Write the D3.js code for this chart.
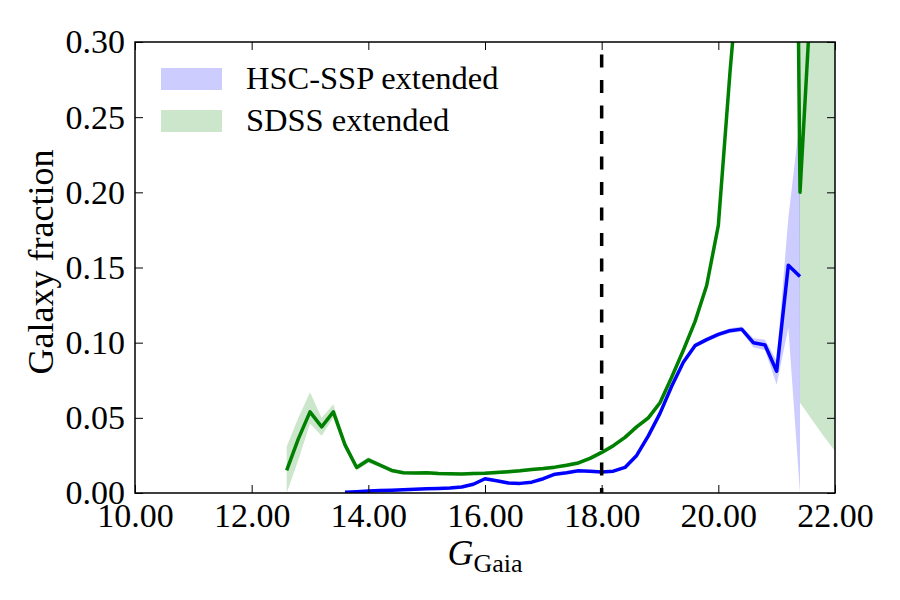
<!DOCTYPE html>
<html>
<head>
<meta charset="utf-8">
<script src="https://cdn.jsdelivr.net/npm/d3@7"></script>
<style>
  body { margin: 0; background: #fff; }
</style>
</head>
<body>
<script>
// DATA
const mags = [12.6, 12.8, 13.0, 13.2, 13.4, 13.6, 13.8, 14.0, 14.2, 14.4,
  14.6, 14.8, 15.0, 15.2, 15.4, 15.6, 15.8, 16.0, 16.2, 16.4,
  16.6, 16.8, 17.0, 17.2, 17.4, 17.6, 17.8, 18.0, 18.2, 18.4,
  18.6, 18.8, 19.0, 19.2, 19.4, 19.6, 19.8, 20.0, 20.2, 20.4,
  20.6, 20.8, 21.0, 21.2, 21.4, 21.6, 21.8, 22.0];

const sdssFrac = [0.015, 0.036, 0.054, 0.044, 0.054, 0.032, 0.017, 0.022, 0.0185, 0.0150,
  0.0135, 0.0133, 0.0134, 0.0130, 0.0128, 0.0126, 0.0130, 0.0132, 0.0137, 0.0142,
  0.0148, 0.0156, 0.0163, 0.0172, 0.0185, 0.0200, 0.0230, 0.0270, 0.0315, 0.0370,
  0.0440, 0.0500, 0.0600, 0.0770, 0.0950, 0.1140, 0.1380, 0.1780, 0.28, 0.37,
  0.45, 0.55, 0.70, 1.0, 0.20, 0.34, 0.55, 0.75];
const sdssLo = [0.000, 0.022, 0.046, 0.038, 0.050, 0.029, 0.015, 0.020, 0.0173, 0.0138,
  0.0123, 0.0121, 0.0122, 0.0118, 0.0116, 0.0114, 0.0118, 0.0120, 0.0125, 0.0130,
  0.0136, 0.0144, 0.0151, 0.0160, 0.0172, 0.0187, 0.0216, 0.0255, 0.0300, 0.0354,
  0.0425, 0.0483, 0.0580, 0.0748, 0.0925, 0.1115, 0.1350, 0.1745, 0.275, 0.36,
  0.44, 0.54, 0.68, 2.5, 0.060, 0.049, 0.038, 0.028];
const sdssHi = [0.031, 0.050, 0.067, 0.050, 0.059, 0.035, 0.019, 0.024, 0.0197, 0.0162,
  0.0147, 0.0145, 0.0146, 0.0142, 0.0140, 0.0138, 0.0142, 0.0144, 0.0149, 0.0154,
  0.0160, 0.0168, 0.0175, 0.0184, 0.0198, 0.0213, 0.0244, 0.0285, 0.0330, 0.0386,
  0.0455, 0.0517, 0.0620, 0.0792, 0.0975, 0.1165, 0.1410, 0.1815, 0.285, 0.38,
  0.46, 0.56, 0.72, 4.0, 4.0, 4.0, 4.0, 4.0];

const hscFrac = [null, null, null, null, null, 0.0005, 0.0009, 0.0013, 0.0016, 0.0019,
  0.0022, 0.0025, 0.0028, 0.0030, 0.0033, 0.0040, 0.0058, 0.0095, 0.0082, 0.0066,
  0.0064, 0.0072, 0.0095, 0.0125, 0.0135, 0.0148, 0.0145, 0.0140, 0.0145, 0.0170,
  0.0250, 0.0380, 0.0530, 0.0710, 0.0870, 0.0980, 0.1020, 0.1055, 0.1080, 0.1090,
  0.1000, 0.0985, 0.0810, 0.1515, 0.1440, null, null, null];
const hscLo = [null, null, null, null, null, 0.0000, 0.0003, 0.0007, 0.0010, 0.0013,
  0.0016, 0.0019, 0.0022, 0.0024, 0.0027, 0.0034, 0.0051, 0.0088, 0.0075, 0.0059,
  0.0057, 0.0065, 0.0088, 0.0118, 0.0128, 0.0141, 0.0138, 0.0133, 0.0138, 0.0162,
  0.0240, 0.0370, 0.0518, 0.0698, 0.0856, 0.0966, 0.1005, 0.1040, 0.1064, 0.1072,
  0.0970, 0.0950, 0.0720, 0.1100, 0.0000, null, null, null];
const hscHi = [null, null, null, null, null, 0.0011, 0.0015, 0.0019, 0.0022, 0.0025,
  0.0028, 0.0031, 0.0034, 0.0036, 0.0039, 0.0046, 0.0065, 0.0102, 0.0089, 0.0073,
  0.0071, 0.0079, 0.0102, 0.0132, 0.0142, 0.0155, 0.0152, 0.0147, 0.0152, 0.0178,
  0.0260, 0.0390, 0.0542, 0.0722, 0.0884, 0.0994, 0.1035, 0.1070, 0.1096, 0.1108,
  0.1030, 0.1020, 0.0880, 0.1830, 0.2500, null, null, null];

const xTicks = [10, 12, 14, 16, 18, 20, 22];
const yTicks = [0, 0.05, 0.10, 0.15, 0.20, 0.25, 0.30];
const cutMag = 18;
const legendLabels = ['HSC-SSP extended', 'SDSS extended'];

// DEFS
const width = 900;
const height = 600;
const margin = {top: 42, right: 65, bottom: 107, left: 135};
const plotW = width - margin.left - margin.right;
const plotH = height - margin.top - margin.bottom;
const font = '"Liberation Serif", "Times New Roman", serif';
const tickFontSize = 34;
const labelFontSize = 36;
const legendFontSize = 32.5;
const tickLen = 8;
const lineWidth = 3.5;
const hscColor = '#0000ff';
const sdssColor = '#008000';

const svg = d3.select('body').append('svg').attr('width', width).attr('height', height);

// SCALES
const x = d3.scaleLinear().domain([10, 22]).range([0, plotW]);
const y = d3.scaleLinear().domain([0, 0.30]).range([plotH, 0]);

const rows = mags.map((m, i) => ({
  m,
  sdss: sdssFrac[i], sdssLo: sdssLo[i], sdssHi: sdssHi[i],
  hsc: hscFrac[i], hscLo: hscLo[i], hscHi: hscHi[i]
}));

const plot = svg.append('g').attr('transform', `translate(${margin.left}, ${margin.top})`);

svg.append('clipPath').attr('id', 'plotClip')
  .append('rect').attr('width', plotW).attr('height', plotH);

const clipped = plot.append('g').attr('clip-path', 'url(#plotClip)');

// BANDS
const hscBand = d3.area()
  .defined(d => d.hsc !== null)
  .x(d => x(d.m)).y0(d => y(d.hscLo)).y1(d => y(d.hscHi));
const sdssBand = d3.area()
  .x(d => x(d.m)).y0(d => y(d.sdssLo)).y1(d => y(d.sdssHi));

clipped.append('path').attr('d', hscBand(rows))
  .attr('fill', hscColor).attr('fill-opacity', 0.2);
clipped.append('path').attr('d', sdssBand(rows))
  .attr('fill', sdssColor).attr('fill-opacity', 0.2);

// LINES
const hscLine = d3.line().defined(d => d.hsc !== null).x(d => x(d.m)).y(d => y(d.hsc));
const sdssLine = d3.line().x(d => x(d.m)).y(d => y(d.sdss));

clipped.append('path').attr('d', hscLine(rows))
  .attr('fill', 'none').attr('stroke', hscColor).attr('stroke-width', lineWidth)
  .attr('stroke-linejoin', 'round');
clipped.append('path').attr('d', sdssLine(rows))
  .attr('fill', 'none').attr('stroke', sdssColor).attr('stroke-width', lineWidth)
  .attr('stroke-linejoin', 'round');

// cut line
clipped.append('line')
  .attr('x1', x(cutMag)).attr('x2', x(cutMag))
  .attr('y1', 0).attr('y2', plotH)
  .attr('stroke', '#000').attr('stroke-width', 3.5)
  .attr('stroke-dasharray', '13,12.5').attr('stroke-dashoffset', 13);

// AXES (ticks inside, all four sides)
const styleAxis = g => {
  g.select('.domain').remove();
  g.selectAll('.tick line').attr('stroke', '#000').attr('stroke-width', 1);
  g.selectAll('.tick text').style('font-family', font).style('font-size', tickFontSize + 'px').attr('fill', '#000');
};

plot.append('g').attr('transform', `translate(0, ${plotH})`)
  .call(d3.axisBottom(x).tickValues(xTicks).tickFormat(d3.format('.2f')).tickSizeInner(-tickLen).tickPadding(10))
  .call(styleAxis);
plot.append('g')
  .call(d3.axisTop(x).tickValues(xTicks).tickFormat('').tickSizeInner(-tickLen))
  .call(styleAxis);
plot.append('g')
  .call(d3.axisLeft(y).tickValues(yTicks).tickFormat(d3.format('.2f')).tickSizeInner(-tickLen).tickPadding(10))
  .call(styleAxis);
plot.append('g').attr('transform', `translate(${plotW}, 0)`)
  .call(d3.axisRight(y).tickValues(yTicks).tickFormat('').tickSizeInner(-tickLen))
  .call(styleAxis);

plot.append('rect').attr('width', plotW).attr('height', plotH)
  .attr('fill', 'none').attr('stroke', '#000').attr('stroke-width', 1.5);

// LABELS
const xLabel = svg.append('text')
  .attr('x', margin.left + plotW / 2).attr('y', 565)
  .attr('text-anchor', 'middle')
  .style('font-family', font).style('font-size', labelFontSize + 'px');
xLabel.append('tspan').style('font-style', 'italic').text('G');
xLabel.append('tspan').attr('dy', 7).style('font-size', '26px').text('Gaia');

svg.append('text')
  .attr('transform', `translate(53, 262) rotate(-90)`)
  .attr('text-anchor', 'middle')
  .style('font-family', font).style('font-size', labelFontSize + 'px')
  .text('Galaxy fraction');

// LEGEND
const legend = plot.append('g').attr('transform', 'translate(26, 26)');
const legendItems = legend.selectAll('g')
  .data(legendLabels)
  .enter().append('g')
    .attr('transform', (d, i) => `translate(0, ${i * 42})`);
legendItems.append('rect')
  .attr('width', 61).attr('height', 22)
  .attr('fill', (d, i) => i === 0 ? hscColor : sdssColor)
  .attr('fill-opacity', 0.2);
legendItems.append('text')
  .attr('x', 85).attr('y', 21)
  .style('font-family', font).style('font-size', legendFontSize + 'px')
  .text(d => d);
</script>
</body>
</html>
